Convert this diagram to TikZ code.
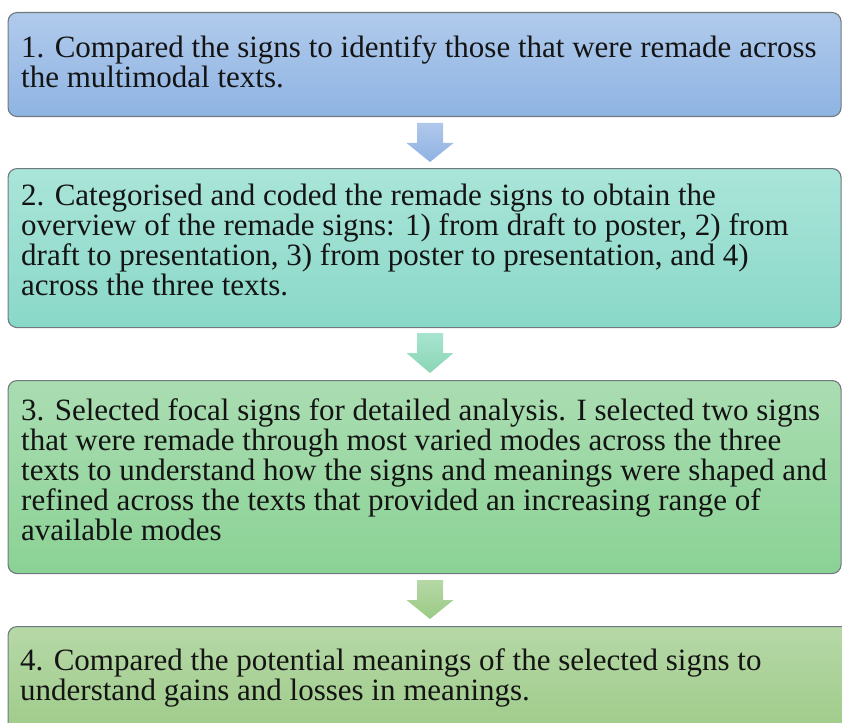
\documentclass[tikz,border=0pt]{standalone}
\usepackage{fontspec}
\setmainfont{Liberation Serif}
\usetikzlibrary{calc}
\definecolor{bAt}{RGB}{176,202,235}
\definecolor{bAb}{RGB}{143,180,227}
\definecolor{bBt}{RGB}{170,229,217}
\definecolor{bBb}{RGB}{137,216,200}
\definecolor{bCt}{RGB}{170,221,178}
\definecolor{bCb}{RGB}{139,210,149}
\definecolor{bDt}{RGB}{182,216,167}
\definecolor{bDb}{RGB}{156,202,134}
\definecolor{edge}{RGB}{112,120,128}
\definecolor{ink}{RGB}{20,20,20}
\tikzset{
  stagebox/.style={draw=edge, line width=1.1pt, rounded corners=9pt, rectangle, inner sep=0pt, anchor=north west, minimum width=833pt},
  stagetext/.style={anchor=north west, align=left, inner sep=0pt, text=ink, font=\fontsize{31}{30}\selectfont},
}
\begin{document}
\begin{tikzpicture}[x=1pt,y=-1pt]
\useasboundingbox (0,0) rectangle (842,722);
\clip (0,0) rectangle (842,722);
% boxes
\node[stagebox, top color=bAt, bottom color=bAb, minimum height=104pt] (b1) at (7.5,12) {};
\node[stagebox, top color=bBt, bottom color=bBb, minimum height=159pt] (b2) at (7.5,168) {};
\node[stagebox, top color=bCt, bottom color=bCb, minimum height=193pt] (b3) at (7.5,380) {};
\node[stagebox, top color=bDt, bottom color=bDb, minimum height=120pt, minimum width=850pt] (b4) at (7.5,626) {};
% texts
\node[stagetext] (t1) at (21,35.5) {1. Compared the signs to identify those that were remade across\\the multimodal texts.};
\node[stagetext] (t2) at (21,183.5) {2. Categorised and coded the remade signs to obtain the\\overview of the remade signs: 1) from draft to poster, 2) from\\draft to presentation, 3) from poster to presentation, and 4)\\across the three texts.};
\node[stagetext] (t3) at (21,398.5) {3. Selected focal signs for detailed analysis. I selected two signs\\that were remade through most varied modes across the three\\texts to understand how the signs and meanings were shaped and\\refined across the texts that provided an increasing range of\\available modes};
\node[stagetext] (t4) at (20,648.5) {4. Compared the potential meanings of the selected signs to\\understand gains and losses in meanings.};
% block arrows
\foreach \n/\ya/\yb/\ct/\cb in {1/123/162/{176,200,235}/{143,178,226}, 2/333/373/{168,228,208}/{138,214,182}, 3/580/619/{182,216,166}/{154,202,132}}{
  \definecolor{arT}{RGB}{\ct}
  \definecolor{arB}{RGB}{\cb}
  \coordinate (a\n top) at (430,\ya);
  \coordinate (a\n tip) at (430,\yb);
  \path[top color=arT, bottom color=arB]
    ($(a\n top)+(-13,0)$) -- ($(a\n top)+(13,0)$) -- ($(a\n top)+(13,20)$) -- ($(a\n top)+(23.5,20)$)
    -- (a\n tip) -- ($(a\n top)+(-23.5,20)$) -- ($(a\n top)+(-13,20)$) -- cycle;
}
\end{tikzpicture}
\end{document}
